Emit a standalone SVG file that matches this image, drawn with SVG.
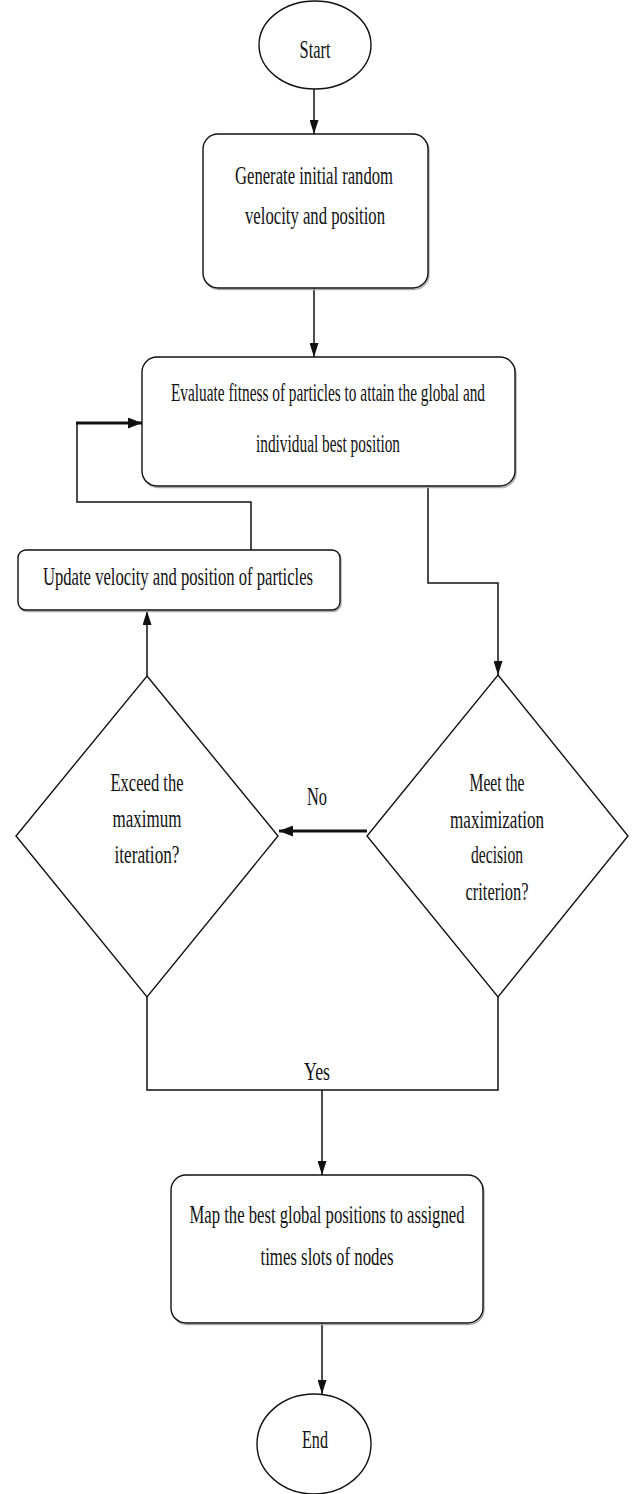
<svg xmlns="http://www.w3.org/2000/svg" width="634" height="1494" viewBox="0 0 634 1494">
<style>
.shape{fill:#fff;stroke:#111;stroke-width:1.4}
.shadow{fill:none;stroke:#aaa;stroke-width:1.4}
.t{font-family:"Liberation Serif","Times New Roman",serif;font-size:26px;fill:#111;text-anchor:middle}
.c{fill:none;stroke:#111;stroke-width:1.5}
.thick{fill:none;stroke:#111;stroke-width:3.2}
</style>
<defs>
<marker id="ah" markerUnits="userSpaceOnUse" markerWidth="14" markerHeight="9" refX="14" refY="4.5" orient="auto" viewBox="0 0 14 9">
<path d="M0,0 L14,4.5 L0,9 z" fill="#111"/>
</marker>
<marker id="ahb" markerUnits="userSpaceOnUse" markerWidth="14" markerHeight="11" refX="14" refY="5.5" orient="auto" viewBox="0 0 14 11">
<path d="M0,0 L14,5.5 L0,11 z" fill="#111"/>
</marker>
</defs>
<rect width="634" height="1494" fill="#fff"/>

<g id="connectors">
<path class="c" d="M314,89 V134" marker-end="url(#ah)"/>
<path class="c" d="M314,288 V357" marker-end="url(#ah)"/>
<path class="c" d="M428,486 V583 H498 V675" marker-end="url(#ah)"/>
<path class="thick" d="M367,831 H279" marker-end="url(#ahb)"/>
<path class="c" d="M147,676 V611" marker-end="url(#ah)"/>
<path class="c" d="M251,550 V502 H77 V423"/>
<path class="thick" d="M76,423 H142" marker-end="url(#ahb)"/>
<path class="c" d="M147,997 V1090 H498 V997"/>
<path class="c" d="M322,1090 V1175" marker-end="url(#ah)"/>
<path class="c" d="M322,1323 V1394" marker-end="url(#ah)"/>
<text class="t" transform="scale(0.6667,1)" x="475.5" y="805" textLength="30" lengthAdjust="spacingAndGlyphs">No</text>
<text class="t" transform="scale(0.6667,1)" x="475.5" y="1080" textLength="39" lengthAdjust="spacingAndGlyphs">Yes</text>
</g>

<g id="start">
<ellipse class="shape" cx="315" cy="45" rx="56" ry="44"/>
<text class="t" transform="scale(0.6667,1)" x="472.5" y="58" textLength="46.5" lengthAdjust="spacingAndGlyphs">Start</text>
</g>

<g id="generate">
<rect class="shadow" x="204" y="135.5" width="225" height="154" rx="15"/>
<rect class="shape" x="203" y="134" width="225" height="154" rx="15"/>
<text class="t" transform="scale(0.6667,1)" x="471" y="184" textLength="237" lengthAdjust="spacingAndGlyphs">Generate initial random</text>
<text class="t" transform="scale(0.6667,1)" x="472.5" y="224" textLength="210" lengthAdjust="spacingAndGlyphs">velocity and position</text>
</g>

<g id="evaluate">
<rect class="shadow" x="143" y="358.5" width="373" height="129" rx="15"/>
<rect class="shape" x="142" y="357" width="373" height="129" rx="15"/>
<text class="t" transform="scale(0.6667,1)" x="492" y="401" textLength="471" lengthAdjust="spacingAndGlyphs">Evaluate fitness of particles to attain the global and</text>
<text class="t" transform="scale(0.6667,1)" x="492" y="452" textLength="216" lengthAdjust="spacingAndGlyphs">individual best position</text>
</g>

<g id="update">
<rect class="shadow" x="19" y="551.5" width="322" height="60" rx="8"/>
<rect class="shape" x="18" y="550" width="322" height="60" rx="8"/>
<text class="t" transform="scale(0.6667,1)" x="267" y="585" textLength="405" lengthAdjust="spacingAndGlyphs">Update velocity and position of particles</text>
</g>

<g id="exceed">
<polygon class="shape" points="147,676 278,836 147,997 16,836"/>
<text class="t" transform="scale(0.6667,1)" x="220.5" y="791" textLength="109.5" lengthAdjust="spacingAndGlyphs">Exceed the</text>
<text class="t" transform="scale(0.6667,1)" x="220.5" y="827" textLength="103.5" lengthAdjust="spacingAndGlyphs">maximum</text>
<text class="t" transform="scale(0.6667,1)" x="220.5" y="863" textLength="97.5" lengthAdjust="spacingAndGlyphs">iteration?</text>
</g>

<g id="meet">
<polygon class="shape" points="498,675 628,836 498,997 367,836"/>
<text class="t" transform="scale(0.6667,1)" x="745.5" y="791" textLength="82.5" lengthAdjust="spacingAndGlyphs">Meet the</text>
<text class="t" transform="scale(0.6667,1)" x="745.5" y="828" textLength="141" lengthAdjust="spacingAndGlyphs">maximization</text>
<text class="t" transform="scale(0.6667,1)" x="745.5" y="863" textLength="78" lengthAdjust="spacingAndGlyphs">decision</text>
<text class="t" transform="scale(0.6667,1)" x="745.5" y="900" textLength="94.5" lengthAdjust="spacingAndGlyphs">criterion?</text>
</g>

<g id="map">
<rect class="shadow" x="172" y="1176.5" width="312" height="148" rx="15"/>
<rect class="shape" x="171" y="1175" width="312" height="148" rx="15"/>
<text class="t" transform="scale(0.6667,1)" x="490.5" y="1223" textLength="412.5" lengthAdjust="spacingAndGlyphs">Map the best global positions to assigned</text>
<text class="t" transform="scale(0.6667,1)" x="490.5" y="1265" textLength="199.5" lengthAdjust="spacingAndGlyphs">times slots of nodes</text>
</g>

<g id="end">
<ellipse class="shape" cx="314" cy="1444" rx="57" ry="50"/>
<text class="t" transform="scale(0.6667,1)" x="472.5" y="1448" textLength="39" lengthAdjust="spacingAndGlyphs">End</text>
</g>
</svg>
